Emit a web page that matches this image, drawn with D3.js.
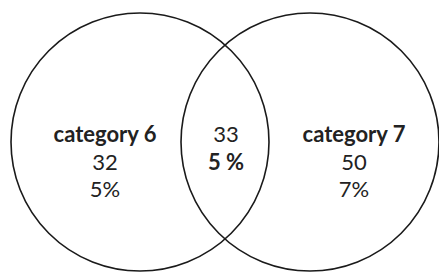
<!DOCTYPE html>
<html>
<head>
<meta charset="utf-8">
<script src="https://cdn.jsdelivr.net/npm/d3@7"></script>
<style>
html,body{margin:0;padding:0;background:#fff;}
svg{display:block;}
</style>
</head>
<body>
<svg id="chart" width="439" height="274"></svg>
<script>
const categories = ["category 6", "category 7"];
const values = [32, 50];
const percents = ["5%", "7%"];
const overlapValue = 33;
const overlapPercent = "5 %";

const W = 439, H = 274;
const svg = d3.select("#chart");

const x = d3.scalePoint().domain(categories).range([140, 310]);
const cy = 142;
const r = 129;
const labelX = d3.scalePoint().domain(categories).range([105, 354]);
const row = d3.scalePoint().domain([0, 1, 2]).range([142, 197]);

svg.selectAll("circle.set")
  .data(categories)
  .join("circle")
  .attr("class", "set")
  .attr("cx", d => x(d))
  .attr("cy", cy)
  .attr("r", r)
  .attr("fill", "none")
  .attr("stroke", "#1a1a1a")
  .attr("stroke-width", 1.6);

const font = "Lato, 'Open Sans', sans-serif";
const g = svg.append("g").attr("font-family", font).attr("font-size", 22).attr("fill", "#222").attr("text-anchor", "middle");

categories.forEach((c, i) => {
  g.append("text").attr("x", labelX(c)).attr("y", row(0)).attr("font-weight", "bold").text(c);
  g.append("text").attr("x", labelX(c)).attr("y", row(1)).text(values[i]);
  g.append("text").attr("x", labelX(c)).attr("y", row(2)).text(percents[i]);
});

const midX = (x(categories[0]) + x(categories[1])) / 2 + 1;
g.append("text").attr("x", midX).attr("y", row(0)).text(overlapValue);
g.append("text").attr("x", midX).attr("y", row(1)).attr("font-weight", "bold").text(overlapPercent);
</script>
</body>
</html>
